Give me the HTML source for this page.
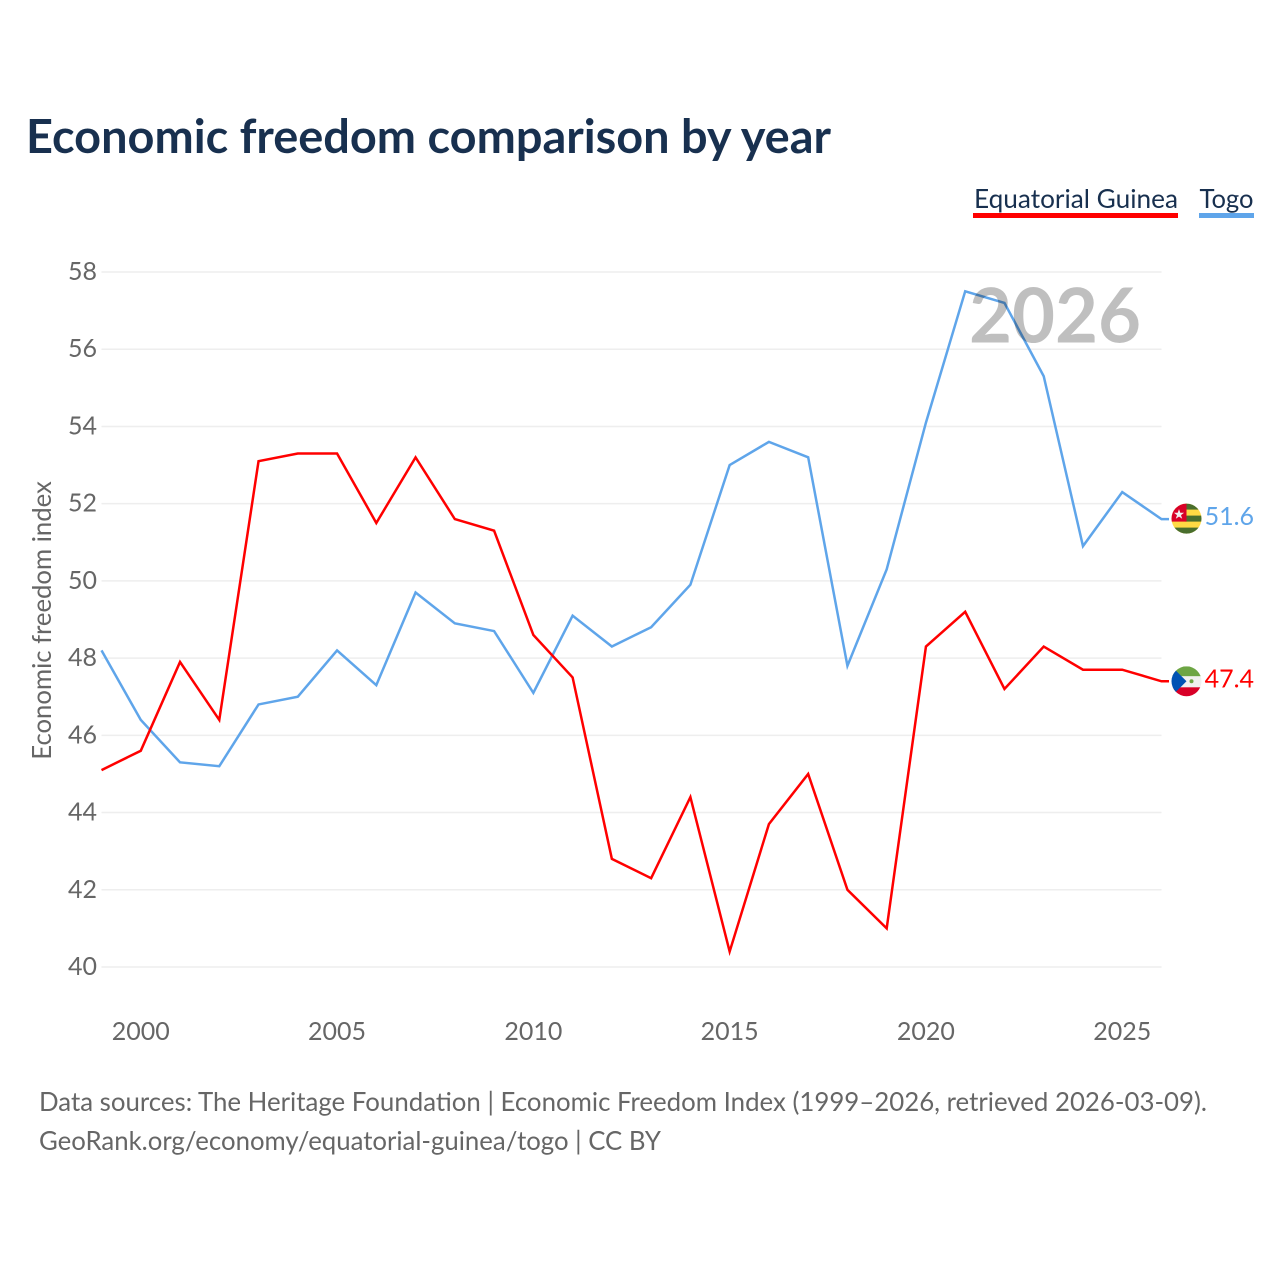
<!DOCTYPE html>
<html lang="en">
<head>
<meta charset="utf-8">
<title>Economic freedom comparison by year</title>
<style>
html,body{margin:0;padding:0;background:#fff;}
body{width:1280px;height:1280px;overflow:hidden;}
svg{display:block;}
text{font-family:"Lato","Carlito","Liberation Sans",sans-serif;}
</style>
</head>
<body>
<svg id="chart" width="1280" height="1280" viewBox="0 0 1280 1280" xmlns="http://www.w3.org/2000/svg">
  <defs>
    <clipPath id="flag-clip"><circle cx="15" cy="15" r="15"/></clipPath>
  </defs>
  <rect width="1280" height="1280" fill="#fff"/>
  <text x="26" y="153" font-size="47" font-weight="700" fill="#18304f" textLength="805" lengthAdjust="spacingAndGlyphs">Economic freedom comparison by year</text>

  <g>
    <g>
      <text x="974" y="208" font-size="26" fill="#18304f" textLength="204" lengthAdjust="spacingAndGlyphs">Equatorial Guinea</text>
      <rect x="973" y="213" width="205" height="5" fill="#ff0000"/>
    </g>
    <g>
      <text x="1199.5" y="208" font-size="26" fill="#18304f" textLength="54" lengthAdjust="spacingAndGlyphs">Togo</text>
      <rect x="1199" y="213" width="55" height="5" fill="#5fa5ea"/>
    </g>
  </g>

  <g id="grid"></g>
  <g id="y-ticks"></g>
  <g id="x-ticks"></g>
  <text transform="translate(51 620.5) rotate(-90)" text-anchor="middle" font-size="25.7" fill="#666">Economic freedom index</text>

  <g id="series"></g>

  <text x="1141" y="342.5" text-anchor="end" font-size="76" font-weight="700" fill="#000" fill-opacity="0.25" textLength="172" lengthAdjust="spacingAndGlyphs">2026</text>

  <g id="flag-togo" clip-path="url(#flag-clip)">
    <rect width="30" height="31" fill="#ffda44"/>
    <rect x="14" y="0" width="16" height="6" fill="#496e2d"/>
    <rect x="14" y="12" width="16" height="6" fill="#496e2d"/>
    <rect y="24" width="30" height="7" fill="#496e2d"/>
    <rect width="15" height="18" fill="#d80027"/>
    <polygon points="7.5,5.5 8.8,9.2 12.6,9.2 9.5,11.5 10.7,15.2 7.5,13 4.3,15.2 5.5,11.5 2.4,9.2 6.2,9.2" fill="#f0f0f0"/>
  </g>
  <g id="flag-equatorial-guinea" clip-path="url(#flag-clip)">
    <rect width="30" height="10" fill="#6da544"/>
    <rect y="10" width="30" height="11" fill="#f0f0f0"/>
    <rect y="21" width="30" height="10" fill="#d80027"/>
    <polygon points="0,0 15,15 0,30" fill="#0052b4"/>
    <circle cx="20" cy="15" r="2" fill="#6da544"/>
  </g>

  <text id="value-togo" x="1254" text-anchor="end" font-size="25" fill="#5fa5ea"></text>
  <text id="value-eq" x="1254" text-anchor="end" font-size="25" fill="#ff0000"></text>

  <g>
    <text x="39" y="1111" font-size="26" fill="#666" textLength="1168" lengthAdjust="spacingAndGlyphs">Data sources: The Heritage Foundation | Economic Freedom Index (1999–2026, retrieved 2026-03-09).</text>
    <text x="39" y="1150" font-size="26" fill="#666" textLength="622" lengthAdjust="spacingAndGlyphs">GeoRank.org/economy/equatorial-guinea/togo | CC BY</text>
  </g>
</svg>
<script>
const years = [1999,2000,2001,2002,2003,2004,2005,2006,2007,2008,2009,2010,2011,2012,2013,2014,2015,2016,2017,2018,2019,2020,2021,2022,2023,2024,2025,2026];
const equatorialGuinea = [45.1,45.6,47.9,46.4,53.1,53.3,53.3,51.5,53.2,51.6,51.3,48.6,47.5,42.8,42.3,44.4,40.4,43.7,45.0,42.0,41.0,48.3,49.2,47.2,48.3,47.7,47.7,47.4];
const togo = [48.2,46.4,45.3,45.2,46.8,47.0,48.2,47.3,49.7,48.9,48.7,47.1,49.1,48.3,48.8,49.9,53.0,53.6,53.2,47.8,50.3,54.1,57.5,57.2,55.3,50.9,52.3,51.6];
const yTickValues = [40,42,44,46,48,50,52,54,56,58];
const xTickValues = [2000,2005,2010,2015,2020,2025];

const NS = 'http://www.w3.org/2000/svg';
const plotLeft = 101.5, plotRight = 1161.5, plotTop = 272, plotBottom = 967;
const xMin = 1999, xMax = 2026, yMin = 40, yMax = 58;
const connectorEnd = 1169;
function xScale(v){ return plotLeft + (v - xMin) / (xMax - xMin) * (plotRight - plotLeft); }
function yScale(v){ return plotBottom - (v - yMin) / (yMax - yMin) * (plotBottom - plotTop); }

const gridGroup = document.getElementById('grid');
const yGroup = document.getElementById('y-ticks');
const xGroup = document.getElementById('x-ticks');
const seriesGroup = document.getElementById('series');

yTickValues.forEach(function(t){
  const line = document.createElementNS(NS, 'line');
  
  
  line.setAttribute('x1', plotLeft);
  line.setAttribute('x2', plotRight);
  line.setAttribute('y1', yScale(t));
  line.setAttribute('y2', yScale(t));
  line.setAttribute('stroke', '#eeeeee');
  line.setAttribute('stroke-width', '1.5');
  gridGroup.appendChild(line);

  const label = document.createElementNS(NS, 'text');
  
  
  label.setAttribute('x', 97);
  label.setAttribute('y', yScale(t) + 8);
  label.setAttribute('text-anchor', 'end');
  label.setAttribute('font-size', '25');
  label.setAttribute('fill', '#666');
  label.textContent = t;
  yGroup.appendChild(label);
});

xTickValues.forEach(function(t){
  const label = document.createElementNS(NS, 'text');
  
  
  label.setAttribute('x', xScale(t));
  label.setAttribute('y', 1040);
  label.setAttribute('text-anchor', 'middle');
  label.setAttribute('font-size', '25');
  label.setAttribute('fill', '#666');
  label.textContent = t;
  xGroup.appendChild(label);
});

function pointsFor(values){
  return values.map(function(v, i){ return xScale(years[i]).toFixed(2) + ',' + yScale(v).toFixed(2); }).join(' ');
}

const togoLine = document.createElementNS(NS, 'polyline');


togoLine.setAttribute('points', pointsFor(togo) + ' ' + connectorEnd + ',' + yScale(togo[togo.length - 1]).toFixed(2));
togoLine.setAttribute('fill', 'none');
togoLine.setAttribute('stroke', '#5fa5ea');
togoLine.setAttribute('stroke-width', '2.5');
seriesGroup.appendChild(togoLine);

const eqLine = document.createElementNS(NS, 'polyline');


eqLine.setAttribute('points', pointsFor(equatorialGuinea) + ' ' + connectorEnd + ',' + yScale(equatorialGuinea[equatorialGuinea.length - 1]).toFixed(2));
eqLine.setAttribute('fill', 'none');
eqLine.setAttribute('stroke', '#ff0000');
eqLine.setAttribute('stroke-width', '2.5');
seriesGroup.appendChild(eqLine);

const lastTogo = togo[togo.length - 1];
const lastEq = equatorialGuinea[equatorialGuinea.length - 1];
document.getElementById('flag-togo').setAttribute('transform', 'translate(1171.5 ' + (yScale(lastTogo) - 15.5).toFixed(1) + ')');
document.getElementById('flag-equatorial-guinea').setAttribute('transform', 'translate(1171.5 ' + (yScale(lastEq) - 15).toFixed(1) + ')');
const togoLabel = document.getElementById('value-togo');
togoLabel.setAttribute('y', (yScale(lastTogo) + 6).toFixed(1));
togoLabel.textContent = lastTogo.toFixed(1);
const eqLabel = document.getElementById('value-eq');
eqLabel.setAttribute('y', (yScale(lastEq) + 6).toFixed(1));
eqLabel.textContent = lastEq.toFixed(1);
</script>
</body>
</html>
